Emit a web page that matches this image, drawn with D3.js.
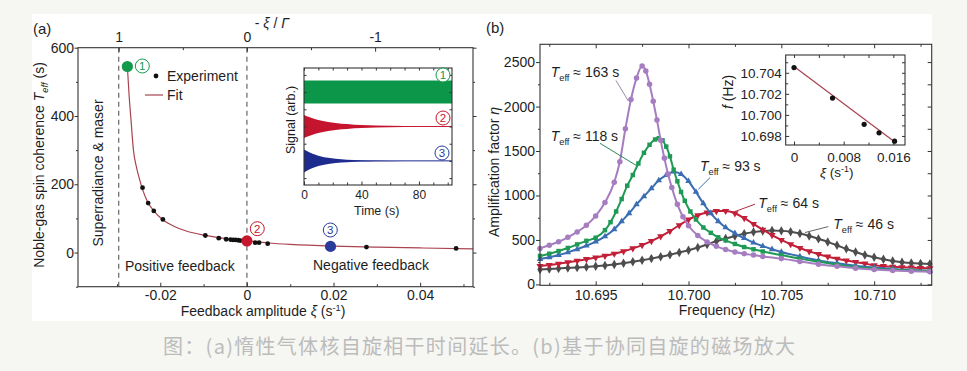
<!DOCTYPE html>
<html><head><meta charset="utf-8">
<script src="https://cdn.jsdelivr.net/npm/d3@7"></script>
<style>body{margin:0;background:#f6f6f2;}svg{display:block}</style>
</head><body>
<svg id="c" width="967" height="371"></svg>
<script>
// ---------------- DATA ----------------
// Panel (a): effective coherence time vs feedback amplitude
const gammaRate = 0.0296; // Γ (s^-1), position of the divergence line
const expXi = [-0.0241,-0.0228,-0.0215,-0.0194,-0.0096,-0.0065,-0.0048,-0.0038,-0.0032,-0.0026,-0.0020,-0.0015,0.0019,0.0028,0.0048,0.0276,0.0483];
const expT  = [190,145,122,97,50,42,39,38,37,37,36,35,29,29,26,16,12];
const fitXi = [-0.0276,-0.0272,-0.0268,-0.0262,-0.0255,-0.0248,-0.0241,-0.0230,-0.0215,-0.0195,-0.017,-0.014,-0.010,-0.006,-0.003,0,0.005,0.01,0.02,0.03,0.04,0.0522];
const fitT  = [545,460,395,300,250,215,185,150,122,97,78,63,51,43,38,34,28,24,19,16,13.5,11];
const keyXi = [-0.0276, 0, 0.0193];
const keyT  = [545, 34, 18];
const keyLabels = ["1","2","3"];
const aXTicks = [-0.02,0,0.02,0.04];
const aXMinor = [-0.03,-0.01,0.01,0.03,0.05];
const aYTicks = [0,200,400,600];
const aYMinor = [-100,100,300,500];
const aTopTicks = [1,0,-1];
const aTopMinor = [0.5,-0.5,-1.5];

// Panel (a) inset: signal envelopes
const signalTime = [0,2,4,6,8,10,14,18,22,26,30,35,40,45,50,60,70,80,90,100,103];
const greenEnv = [1,1,1,1,1,1,1,1,1,1,1,1,1,1,1,1,1,1,1,1,1];
const redEnv   = [1.0,0.9,0.8,0.72,0.64,0.57,0.46,0.37,0.3,0.25,0.21,0.16,0.13,0.1,0.08,0.055,0.04,0.03,0.025,0.02,0.02];
const blueEnv  = [1.0,0.86,0.73,0.62,0.53,0.45,0.33,0.25,0.19,0.14,0.11,0.08,0.06,0.045,0.035,0.02,0.015,0.01,0.01,0.01,0.01];
const insetATicks = [0,40,80];

// Panel (b): amplification factor vs frequency
const purpleF = [10.6920,10.6925,10.6930,10.6935,10.6940,10.6945,10.6950,10.6955,10.6960,10.6963,10.6966,10.6969,10.6972,10.6975,10.6977,10.6979,10.6981,10.6983,10.6985,10.6987,10.6989,10.6991,10.6994,10.6997,10.7000,10.7005,10.7010,10.7015,10.7020,10.7025,10.7030,10.7035,10.7040,10.7050,10.7060,10.7070,10.7080,10.7090,10.7100,10.7110,10.7120,10.7130];
const purpleEta = [405,440,480,530,590,665,770,920,1150,1380,1750,2080,2320,2455,2400,2250,2060,1850,1620,1420,1240,1090,900,760,660,550,478,428,392,365,345,330,315,290,258,228,203,183,168,157,149,143];
const greenF = [10.6920,10.6925,10.6930,10.6935,10.6940,10.6945,10.6950,10.6955,10.6958,10.6961,10.6964,10.6967,10.6970,10.6973,10.6976,10.6979,10.6982,10.6984,10.6986,10.6988,10.6990,10.6992,10.6994,10.6996,10.6998,10.7001,10.7004,10.7008,10.7012,10.7016,10.7020,10.7025,10.7030,10.7035,10.7040,10.7050,10.7060,10.7070,10.7080,10.7090,10.7100,10.7110,10.7120,10.7130];
const greenEta = [320,345,375,410,450,490,525,610,700,820,960,1110,1230,1360,1480,1570,1630,1644,1620,1550,1440,1290,1160,1040,940,820,730,640,580,530,495,455,420,395,370,330,290,255,222,196,177,165,156,150];
const blueF = [10.6920,10.6925,10.6930,10.6935,10.6940,10.6945,10.6950,10.6955,10.6960,10.6964,10.6968,10.6972,10.6976,10.6980,10.6984,10.6988,10.6992,10.6996,10.7000,10.7004,10.7008,10.7012,10.7016,10.7020,10.7025,10.7030,10.7035,10.7040,10.7045,10.7050,10.7060,10.7070,10.7080,10.7090,10.7100,10.7110,10.7120,10.7130];
const blueEta = [285,305,330,360,395,435,480,540,620,710,800,900,990,1080,1170,1230,1268,1240,1160,1040,910,800,710,640,575,520,470,430,395,365,315,270,238,210,190,174,162,153];
const gridF = [10.6920,10.6925,10.6930,10.6935,10.6940,10.6945,10.6950,10.6955,10.6960,10.6965,10.6970,10.6975,10.6980,10.6985,10.6990,10.6995,10.7000,10.7005,10.7010,10.7015,10.7020,10.7025,10.7030,10.7035,10.7040,10.7045,10.7050,10.7055,10.7060,10.7065,10.7070,10.7075,10.7080,10.7085,10.7090,10.7095,10.7100,10.7105,10.7110,10.7115,10.7120,10.7125,10.7130];
const redEta  = [206,218,232,248,265,284,302,322,345,372,405,442,487,540,600,665,728,778,808,825,826,800,745,680,615,555,500,452,410,372,340,312,288,268,250,234,214,205,198,193,189,185,182];
const grayEta = [169,174,180,185,190,196,203,212,225,238,255,272,290,310,333,358,385,415,450,485,515,545,570,588,600,605,602,592,572,545,512,478,440,400,365,330,305,282,263,250,240,234,229];
const seriesTeff = ["163","118","93","64","46"];
const bXTicks = [10.695,10.700,10.705,10.710];
const bXMinor = [10.6925,10.6975,10.7025,10.7075,10.7125];
const bYTicks = [0,500,1000,1500,2000,2500];
const bYMinor = [250,750,1250,1750,2250];

// Panel (b) inset: peak frequency vs feedback
const insetXi = [0, 0.0062, 0.0113, 0.0137, 0.0162];
const insetFreq = [10.7045, 10.7016, 10.6991, 10.6983, 10.6975];
const insetFitXi = [0, 0.0163];
const insetFitFreq = [10.7046, 10.6974];
const insetBXTicks = [0, 0.008, 0.016];
const insetBYTicks = [10.698, 10.700, 10.702, 10.704];

// ---------------- DRAW ----------------
const FONT = "'Liberation Sans', Arial, Helvetica, sans-serif";
const INK = "#1e1e1e", AX = "#333";
const svg = d3.select("#c");
svg.append("rect").attr("x",32).attr("y",14).attr("width",900).attr("height",307).attr("fill","#fff");

function rich(sel, segs, base) {
  let shift = 0;
  segs.forEach(s => {
    const ts = sel.append("tspan").text(s.t);
    const target = s.sup ? -base*0.38 : (s.sub ? base*0.3 : 0);
    if (target !== shift) { ts.attr("dy", target - shift); shift = target; }
    if (s.sup || s.sub) ts.attr("font-size", base*0.66);
    if (s.i) ts.attr("font-style","italic");
  });
  return sel;
}
function txt(x, y, size, anchor, fill) {
  return svg.append("text").attr("x",x).attr("y",y).attr("font-size",size)
    .attr("font-family",FONT).attr("text-anchor",anchor||"start").attr("fill",fill||INK);
}
function addAxis(gen, tx, ty, size) {
  const g = svg.append("g").attr("transform",`translate(${tx},${ty})`).call(gen);
  g.select(".domain").remove();
  g.selectAll(".tick line").attr("stroke",AX).attr("stroke-width",1);
  g.selectAll(".tick text").attr("font-size",size||14).attr("font-family",FONT).attr("fill",INK);
  return g;
}
function frame(x0,y0,x1,y1){
  svg.append("rect").attr("x",x0).attr("y",y0).attr("width",x1-x0).attr("height",y1-y0)
    .attr("fill","none").attr("stroke",AX).attr("stroke-width",1.1);
}
function circled(cx, cy, label, color) {
  svg.append("circle").attr("cx",cx).attr("cy",cy).attr("r",7).attr("fill","#fff").attr("stroke",color).attr("stroke-width",1);
  txt(cx, cy+4, 11.5, "middle", color).text(label);
}

// ===== Panel (a) =====
const aL=78, aR=473, aT=47.7, aB=286.7;
const xA = d3.scaleLinear().domain([-0.039,0.0522]).range([aL,aR]);
const yA = d3.scaleLinear().domain([-100,600]).range([aB,aT]);
const topA = d3.scaleLinear().domain(xA.domain().map(v => -v/gammaRate)).range([aL,aR]);

// dashed lines
[-gammaRate, 0].forEach(v => {
  svg.append("line").attr("x1",xA(v)).attr("x2",xA(v)).attr("y1",aT).attr("y2",aB)
    .attr("stroke","#666").attr("stroke-width",1.2).attr("stroke-dasharray","5,4");
});

const fmt = d => String(d);
addAxis(d3.axisBottom(xA).tickValues(aXTicks).tickFormat(fmt).tickSize(-4).tickSizeOuter(0).tickPadding(3.5), 0, aB);
addAxis(d3.axisBottom(xA).tickValues(aXMinor).tickFormat("").tickSize(-2.5).tickSizeOuter(0), 0, aB);
addAxis(d3.axisTop(topA).tickValues(aTopTicks).tickFormat(fmt).tickSize(-4).tickSizeOuter(0).tickPadding(5.5), 0, aT);
addAxis(d3.axisTop(topA).tickValues(aTopMinor).tickFormat("").tickSize(-2.5).tickSizeOuter(0), 0, aT);
addAxis(d3.axisLeft(yA).tickValues(aYTicks).tickFormat(fmt).tickSize(3.5).tickSizeOuter(0).tickPadding(0.5), aL, 0);
addAxis(d3.axisLeft(yA).tickValues(aYMinor).tickFormat("").tickSize(2).tickSizeOuter(0), aL, 0);
addAxis(d3.axisRight(yA).tickValues(aYTicks).tickFormat("").tickSize(3.5).tickSizeOuter(0), aR, 0);
addAxis(d3.axisRight(yA).tickValues(aYMinor).tickFormat("").tickSize(2).tickSizeOuter(0), aR, 0);

// fit line
svg.append("path").datum(fitXi.map((x,i)=>[x,fitT[i]]))
  .attr("d", d3.line().x(d=>xA(d[0])).y(d=>yA(d[1])).curve(d3.curveMonotoneX))
  .attr("fill","none").attr("stroke","#a8434f").attr("stroke-width",1.2);
// experiment points
svg.selectAll(".exp").data(expXi).enter().append("circle")
  .attr("cx",(d)=>xA(d)).attr("cy",(d,i)=>yA(expT[i])).attr("r",2.4).attr("fill","#111");
// key points
const keyColors = ["#129a4c","#c8162e","#2a3b9c"];
keyXi.forEach((x,i)=>{
  svg.append("circle").attr("cx",xA(x)).attr("cy",yA(keyT[i])).attr("r",5.6).attr("fill",keyColors[i]);
});
circled(142.3, 66, keyLabels[0], keyColors[0]);
circled(257.3, 228.7, keyLabels[1], keyColors[1]);
circled(330.3, 230, keyLabels[2], keyColors[2]);

frame(aL,aT,aR,aB);

// legend
svg.append("circle").attr("cx",156).attr("cy",76).attr("r",2.4).attr("fill","#111");
txt(167, 81, 14).text("Experiment");
svg.append("line").attr("x1",145).attr("x2",163).attr("y1",95).attr("y2",95).attr("stroke","#a8434f").attr("stroke-width",1.2);
txt(167, 100, 14).text("Fit");

txt(125, 271, 14).text("Positive feedback");
txt(313, 270, 14).text("Negative feedback");
svg.append("text").attr("transform","translate(103,173) rotate(-90)").attr("text-anchor","middle")
  .attr("font-size",14).attr("font-family",FONT).attr("fill",INK).text("Superradiance & maser");

// axis titles
rich(txt(263, 316, 14, "middle"), [{t:"Feedback amplitude  "},{t:"ξ",i:true},{t:" (s"},{t:"-1",sup:true},{t:")"}], 14);
rich(txt(272, 28, 14, "middle"), [{t:"- "},{t:"ξ",i:true},{t:" / "},{t:"Γ",i:true}], 14);
rich(svg.append("text").attr("transform","translate(44,165) rotate(-90)").attr("text-anchor","middle")
  .attr("font-size",14).attr("font-family",FONT).attr("fill",INK),
  [{t:"Noble-gas spin coherence "},{t:"T",i:true},{t:"eff",sub:true,i:true},{t:" (s)"}], 14);
txt(33, 34, 15).text("(a)");

// ===== Panel (a) inset =====
const iL=304, iR=452, iT=68, iB=185;
const xS = d3.scaleLinear().domain([0,103]).range([iL,iR]);
const yS = d3.scaleLinear().domain([-5.1,5.1]).range([iB,iT]);
svg.append("rect").attr("x",iL).attr("y",iT).attr("width",iR-iL).attr("height",iB-iT).attr("fill","#fff");
const bands = [[greenEnv,3,"#0b964a"],[redEnv,0,"#c5142d"],[blueEnv,-3,"#1e2b8e"]];
bands.forEach(([env,off,col])=>{
  const area = d3.area().x((d,i)=>xS(signalTime[i])).y0((d)=>yS(off-d)).y1((d)=>yS(off+d));
  svg.append("path").datum(env).attr("d",area).attr("fill",col);
  svg.append("line").attr("x1",xS(0)).attr("x2",xS(103)).attr("y1",yS(off)).attr("y2",yS(off))
    .attr("stroke",col).attr("stroke-width",0.9);
});
const insetMinorX = d3.range(10,101,10).filter(v=>!insetATicks.includes(v));
addAxis(d3.axisBottom(xS).tickValues(insetATicks).tickFormat(fmt).tickSize(-3.5).tickSizeOuter(0).tickPadding(5.5), 0, iB, 12);
addAxis(d3.axisBottom(xS).tickValues(insetMinorX).tickFormat("").tickSize(-2.5).tickSizeOuter(0), 0, iB);
addAxis(d3.axisTop(xS).tickValues(d3.range(0,101,10)).tickFormat("").tickSize(-2.5).tickSizeOuter(0), 0, iT);
addAxis(d3.axisLeft(yS).tickValues([-4.5,-3,-1.5,0,1.5,3,4.5]).tickFormat("").tickSize(-2.5).tickSizeOuter(0), iL, 0);
addAxis(d3.axisRight(yS).tickValues([-4.5,-3,-1.5,0,1.5,3,4.5]).tickFormat("").tickSize(-2.5).tickSizeOuter(0), iR, 0);
frame(iL,iT,iR,iB);
circled(443, 75, keyLabels[0], keyColors[0]);
circled(443, 118, keyLabels[1], keyColors[1]);
circled(442, 153, keyLabels[2], keyColors[2]);
txt(376.7, 215, 12.5, "middle").text("Time (s)");
svg.append("text").attr("transform","translate(294.5,120) rotate(-90)").attr("text-anchor","middle")
  .attr("font-size",12.5).attr("font-family",FONT).attr("fill",INK).text("Signal (arb.)");

// ===== Panel (b) =====
const bL=540, bR=931.7, bT=44.3, bB=285.3;
const xB = d3.scaleLinear().domain([10.692,10.7131]).range([bL,bR]);
const yB = d3.scaleLinear().domain([-10,2700]).range([bB,bT]);
const f3 = d => d.toFixed(3);
addAxis(d3.axisBottom(xB).tickValues(bXTicks).tickFormat(f3).tickSize(-4).tickSizeOuter(0).tickPadding(4.8), 0, bB);
addAxis(d3.axisBottom(xB).tickValues(bXMinor).tickFormat("").tickSize(-2.5).tickSizeOuter(0), 0, bB);
addAxis(d3.axisTop(xB).tickValues(bXTicks).tickFormat("").tickSize(-4).tickSizeOuter(0), 0, bT);
addAxis(d3.axisTop(xB).tickValues(bXMinor).tickFormat("").tickSize(-2.5).tickSizeOuter(0), 0, bT);
addAxis(d3.axisLeft(yB).tickValues(bYTicks).tickFormat(fmt).tickSize(4).tickSizeOuter(0).tickPadding(1), bL, 0);
addAxis(d3.axisLeft(yB).tickValues(bYMinor).tickFormat("").tickSize(2).tickSizeOuter(0), bL, 0);
addAxis(d3.axisRight(yB).tickValues(bYTicks.concat(bYMinor)).tickFormat("").tickSize(-4).tickSizeOuter(0), bR, 0);

const series = [
  {f:grayF(), e:grayEta, c:"#4d4d4d", sym:d3.symbolDiamond, rot:0, size:26},
  {f:gridF, e:redEta, c:"#c21f38", sym:d3.symbolTriangle, rot:180, size:22},
  {f:blueF, e:blueEta, c:"#3b6db3", sym:d3.symbolTriangle, rot:0, size:18},
  {f:greenF, e:greenEta, c:"#1f9a55", sym:d3.symbolSquare, rot:0, size:20},
  {f:purpleF, e:purpleEta, c:"#a67dc0", sym:d3.symbolCircle, rot:0, size:24},
];
function grayF(){ return gridF; }
const lineB = d3.line().x(d=>xB(d[0])).y(d=>yB(d[1])).curve(d3.curveMonotoneX);
series.forEach(s=>{
  const pts = s.f.map((f,i)=>[f,s.e[i]]);
  svg.append("path").datum(pts).attr("d",lineB).attr("fill","none").attr("stroke",s.c).attr("stroke-width",2);
  svg.append("g").selectAll("path").data(pts).enter().append("path")
    .attr("d", d3.symbol().type(s.sym).size(s.size))
    .attr("transform", d=>`translate(${xB(d[0])},${yB(d[1])}) rotate(${s.rot})`)
    .attr("fill", s.c);
});
frame(bL,bT,bR,bB);

// annotations: [textF, textEta, lineF1, lineEta1, lineF2, lineEta2, color]
const annots = [
  [10.69258, 2332, 10.69609, 2294, 10.69676, 2062, "#9b88ac"],
  [10.69258, 1611, 10.69523, 1587, 10.69721, 1335, "#2b8a5a"],
  [10.70062, 1278, 10.70116, 1201, 10.70053, 1070, "#3b6db3"],
  [10.70376, 864, 10.70358, 902, 10.7025, 819, "#b02a40"],
  [10.7078, 620, 10.70753, 650, 10.70627, 583, "#666"],
];
annots.forEach((a,i)=>{
  svg.append("line").attr("x1",xB(a[2])).attr("y1",yB(a[3])).attr("x2",xB(a[4])).attr("y2",yB(a[5]))
    .attr("stroke",a[6]).attr("stroke-width",1);
  rich(txt(xB(a[0]), yB(a[1]), 14), [{t:"T",i:true},{t:"eff",sub:true},{t:" ≈ "+seriesTeff[i]+" s"}], 14);
});

txt(727, 315, 14, "middle").text("Frequency (Hz)");
rich(svg.append("text").attr("transform","translate(499,172) rotate(-90)").attr("text-anchor","middle")
  .attr("font-size",14).attr("font-family",FONT).attr("fill",INK),
  [{t:"Amplification factor "},{t:"η",i:true}], 14);
txt(486, 33, 15).text("(b)");

// ===== Panel (b) inset =====
const jL=785.7, jR=905, jT=55, jB=145;
const xI = d3.scaleLinear().domain([-0.00134,0.01788]).range([jL,jR]);
const yI = d3.scaleLinear().domain([10.69714,10.70569]).range([jB,jT]);
svg.append("rect").attr("x",jL).attr("y",jT).attr("width",jR-jL).attr("height",jB-jT).attr("fill","#fff");
addAxis(d3.axisBottom(xI).tickValues(insetBXTicks).tickFormat(fmt).tickSize(-3.5).tickSizeOuter(0).tickPadding(7.5), 0, jB, 13.5);
addAxis(d3.axisBottom(xI).tickValues([0.004,0.012]).tickFormat("").tickSize(-2.5).tickSizeOuter(0), 0, jB);
addAxis(d3.axisTop(xI).tickValues([0,0.004,0.008,0.012,0.016]).tickFormat("").tickSize(-3).tickSizeOuter(0), 0, jT);
addAxis(d3.axisLeft(yI).tickValues(insetBYTicks).tickFormat(f3).tickSize(-3.5).tickSizeOuter(0).tickPadding(4), jL, 0, 13.5);
addAxis(d3.axisLeft(yI).tickValues([10.699,10.701,10.703,10.705]).tickFormat("").tickSize(-2.5).tickSizeOuter(0), jL, 0);
addAxis(d3.axisRight(yI).tickValues(insetBYTicks.concat([10.699,10.701,10.703,10.705])).tickFormat("").tickSize(-3).tickSizeOuter(0), jR, 0);
svg.append("path").datum(insetFitXi.map((x,i)=>[x,insetFitFreq[i]]))
  .attr("d", d3.line().x(d=>xI(d[0])).y(d=>yI(d[1])))
  .attr("fill","none").attr("stroke","#a8434f").attr("stroke-width",1.2);
insetXi.forEach((x,i)=>{
  svg.append("circle").attr("cx",xI(x)).attr("cy",yI(insetFreq[i])).attr("r",2.6).attr("fill","#111");
});
frame(jL,jT,jR,jB);
rich(txt(836.7, 176.7, 13.5, "middle"), [{t:"ξ",i:true},{t:" (s"},{t:"-1",sup:true},{t:")"}], 13.5);
rich(svg.append("text").attr("transform","translate(733,92) rotate(-90)").attr("text-anchor","middle")
  .attr("font-size",14).attr("font-family",FONT).attr("fill",INK),
  [{t:"f",i:true},{t:" (Hz)"}], 14);

// ===== caption =====
svg.append("text").attr("x",163).attr("y",354).attr("font-size",20)
  .attr("font-family","'Noto Sans CJK SC', sans-serif").attr("fill","#bcbcbc")
  .attr("textLength",632).attr("lengthAdjust","spacing")
  .text("图：(a)惰性气体核自旋相干时间延长。(b)基于协同自旋的磁场放大");
</script>
</body></html>
